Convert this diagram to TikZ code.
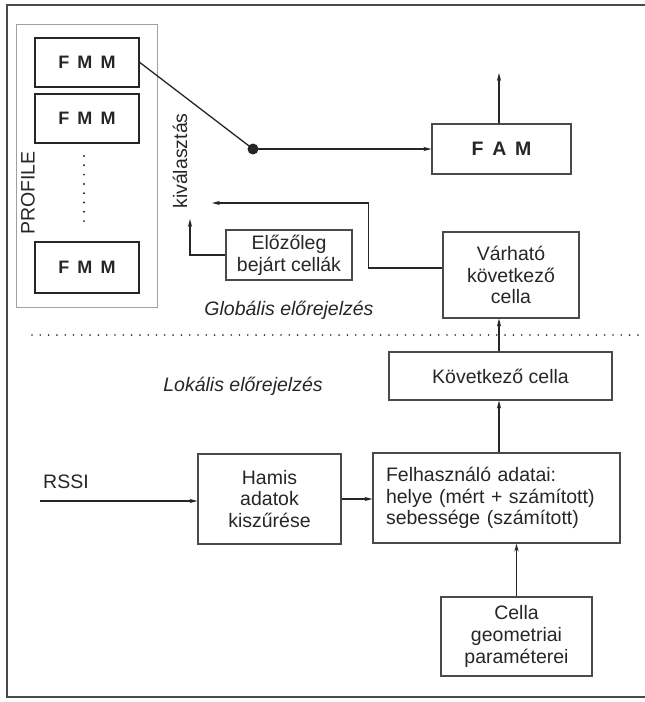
\documentclass[tikz,border=0pt]{standalone}
\usepackage{fontspec}
\setmainfont{Liberation Sans}
\usetikzlibrary{arrows.meta,calc}
\definecolor{ink}{HTML}{262626}
\definecolor{boxline}{HTML}{4A4A4A}
\definecolor{paleline}{HTML}{A0A0A0}
\begin{document}
\begin{tikzpicture}[x=1pt,y=-1pt,
  txt/.style={font=\fontsize{19.5}{21.8}\selectfont, text=ink},
  block/.style={txt, draw=boxline, line width=1.1pt, align=center, inner sep=0pt},
  fmmbox/.style={draw=ink, line width=1.7pt, minimum width=104, minimum height=49,
    font=\bfseries\fontsize{18}{20}\selectfont, text=ink, inner sep=0pt},
  conn/.style={draw=ink, line width=1.3pt},
  arr/.style={conn, -{Stealth[length=8pt,width=4.2pt]}},
]
\useasboundingbox (0,0) rectangle (645,702);

% outer frame (open on the right)
\draw[boxline, line width=1.4pt] (645,5) -- (7,5) -- (7,697) -- (645,697);

% profile container with its FMM entries
\node[draw=paleline, line width=0.7pt, minimum width=141, minimum height=283, inner sep=0pt] (profile) at (86.5,165.5) {};
\node[fmmbox] (fmm1) at (87,62.5) {F\hspace{0.45em}M\hspace{0.45em}M};
\node[fmmbox] (fmm2) at (87,118.5) {F\hspace{0.45em}M\hspace{0.45em}M};
\node[fmmbox, minimum height=51] (fmm3) at (87,267.5) {F\hspace{0.45em}M\hspace{0.45em}M};
\node[txt, rotate=90] (proftext) at (28,193) {PROFILE};
\coordinate (dotsA) at (84,156);
\coordinate (dotsB) at (84,230);
\draw[ink, line width=2.2pt, line cap=round, dash pattern=on 0pt off 9.3pt] (dotsA) -- (dotsB);

% selection
\node[txt, rotate=90] (kival) at (180,161) {kiválasztás};
\coordinate (sw) at (253,149);
\coordinate (selA) at (212,203);
\coordinate (selB) at (190,219);

% global prediction blocks
\node[block, minimum width=139, minimum height=50, font=\bfseries\fontsize{19.5}{21}\selectfont] (fam) at (501.5,149) {F\hspace{0.45em}A\hspace{0.45em}M};
\coordinate (famout) at (499,73);
\node[block, minimum width=126, minimum height=50] (elozo) at (289,255) {Előzőleg\\bejárt cellák};
\node[block, minimum width=136, minimum height=86] (varh) at (511,275) {Várható\\következő\\cella};
\node[txt, font=\itshape\fontsize{19.5}{21.8}\selectfont] (glob) at (289,310) {Globális előrejelzés};

% separator between global and local prediction
\coordinate (sepA) at (32,335);
\coordinate (sepB) at (643,335);
\draw[ink, line width=1.8pt, line cap=round, dash pattern=on 0pt off 8.3pt] (sepA) -- (sepB);

% local prediction blocks
\node[txt, font=\itshape\fontsize{19.5}{21.8}\selectfont] (lok) at (243,386) {Lokális előrejelzés};
\node[block, minimum width=223, minimum height=48] (kov) at (500.5,376) {Következő cella};
\node[block, minimum width=143, minimum height=90] (hamis) at (269.5,499) {Hamis\\adatok\\kiszűrése};
\node[block, minimum width=247, minimum height=90, align=left, text width=221] (felh) at (496.5,498) {Felhasználó adatai:\\helye (mért + számított)\\sebessége (számított)};
\node[block, minimum width=151, minimum height=79] (cella) at (516.5,636.5) {Cella\\geometriai\\paraméterei};
\node[txt] (rssi) at (66,482) {RSSI};
\coordinate (rssiin) at (40,501);
\coordinate (col) at (499,0);

% connectors
\draw[conn] (fmm1.east) -- (sw);
\fill[ink] (sw) circle (5.5);
\draw[arr] (sw) -- (fam.west);
\draw[arr] (fam.north -| famout) -- (famout);
\draw[arr] ($(varh.west)+(0,-7)$) -- ++(-74,0) |- (selA);
\draw[arr] (elozo.west) -| (selB);
\draw[arr] (kov.north -| col) -- (varh.south -| col);
\draw[arr] (felh.north -| col) -- (kov.south -| col);
\draw[arr] (rssiin) -- (rssiin -| hamis.west);
\draw[arr] (hamis.east) -- (hamis.east -| felh.west);
\draw[arr] (cella.north) -- (cella.north |- felh.south);
\end{tikzpicture}
\end{document}
